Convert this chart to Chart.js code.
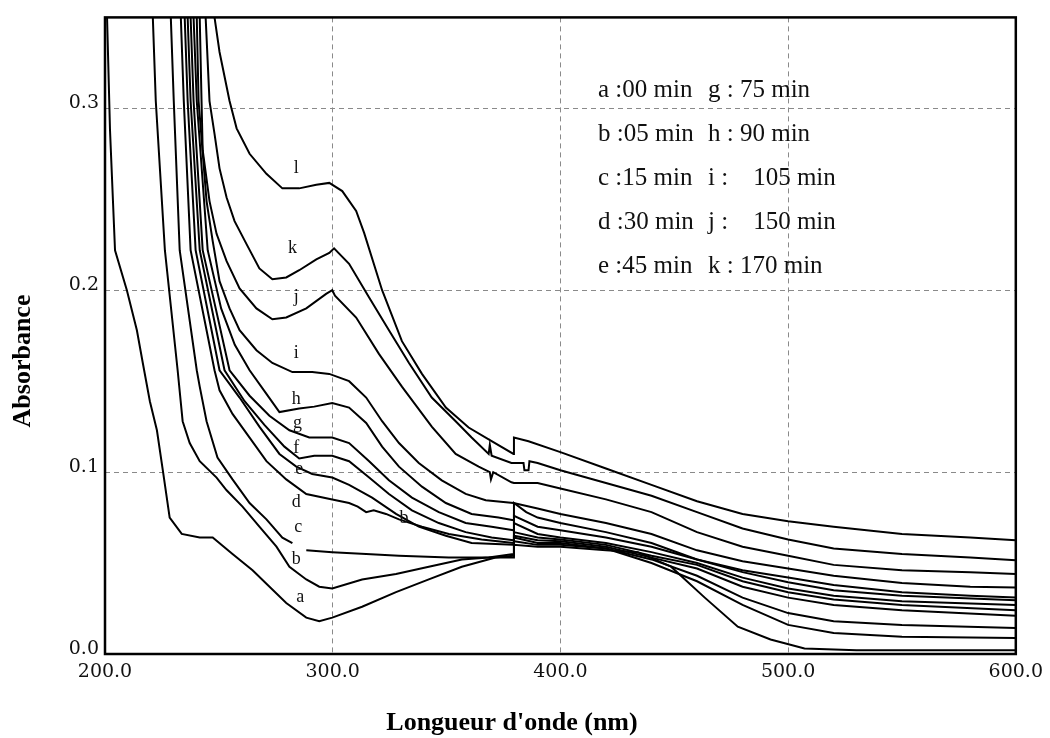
<!DOCTYPE html>
<html>
<head>
<meta charset="utf-8">
<script src="https://cdn.jsdelivr.net/npm/chart.js@4.4.0/dist/chart.umd.min.js"></script>
<style>
  html, body { margin: 0; padding: 0; background: #fff; }
  canvas { display: block; }
</style>
</head>
<body>
<canvas id="spectra" width="1050" height="738"></canvas>
<script>
// ── Spectra (wavelength in nm, absorbance) ──
const A_WL  = [200.9, 202.2, 204.4, 209.6, 214.0, 216.6, 219.7, 222.8, 225.4, 228.4, 233.7, 241.6, 247.3, 256.0, 264.8, 279.6, 288.4, 294.1, 299.8, 312.9, 327.8, 342.2, 356.7, 371.5, 379.4, 379.6, 390, 400, 420, 434, 448.6, 463.4, 477.9, 492.3, 507.2, 530, 560, 600];
const A_ABS = [0.350, 0.288, 0.222, 0.200, 0.178, 0.160, 0.139, 0.123, 0.101, 0.075, 0.066, 0.064, 0.064, 0.055, 0.046, 0.028, 0.020, 0.018, 0.020, 0.026, 0.034, 0.041, 0.048, 0.053, 0.054, 0.060, 0.059, 0.059, 0.057, 0.056, 0.048, 0.031, 0.015, 0.008, 0.003, 0.002, 0.002, 0.002];

const B_WL  = [221.0, 222.3, 226.3, 231.9, 234.1, 237.2, 241.6, 249.0, 253.4, 260.4, 267.8, 275.3, 281.0, 288.4, 294.1, 299.8, 312.9, 327.8, 342.2, 356.7, 368.5, 379.4, 379.6, 390, 400, 420, 440, 460, 480, 500, 520, 550, 600];
const B_ABS = [0.350, 0.304, 0.222, 0.156, 0.128, 0.116, 0.106, 0.097, 0.090, 0.081, 0.070, 0.059, 0.048, 0.041, 0.037, 0.036, 0.041, 0.044, 0.048, 0.052, 0.053, 0.055, 0.062, 0.060, 0.060, 0.058, 0.050, 0.040, 0.027, 0.016, 0.0115, 0.0095, 0.0088];

const C_WL  = [228.9, 230.2, 232.8, 240.3, 241.6, 244.6, 249.4, 256.0, 263.5, 270.9, 277.9, 282.3, 285.0, 288.4, 299.8, 314.7, 329.1, 351.0, 379.4, 379.6, 385, 390, 400, 420, 440, 460, 480, 500, 520, 550, 580, 600];
const C_ABS = [0.350, 0.304, 0.222, 0.156, 0.147, 0.128, 0.108, 0.096, 0.083, 0.074, 0.064, 0.061, null, 0.057, 0.056, 0.055, 0.054, 0.053, 0.053, 0.083, 0.078, 0.075, 0.072, 0.067, 0.061, 0.052, 0.046, 0.042, 0.038, 0.034, 0.032, 0.031];

const D_WL  = [233.3, 234.6, 237.6, 248.1, 250.3, 256.0, 263.5, 270.9, 279.6, 288.4, 299.8, 307.2, 311.0, 314.7, 318.0, 323.4, 329.1, 339.2, 351.0, 365.4, 379.4, 379.6, 390, 400, 420, 440, 460, 480, 500, 520, 550, 600];
const D_ABS = [0.350, 0.304, 0.222, 0.156, 0.145, 0.132, 0.119, 0.106, 0.096, 0.088, 0.085, 0.083, 0.081, 0.078, 0.079, 0.077, 0.074, 0.070, 0.066, 0.063, 0.061, 0.064, 0.061, 0.061, 0.058, 0.052, 0.043, 0.031, 0.0225, 0.018, 0.016, 0.0143];

const E_WL  = [235.0, 236.3, 239.8, 250.3, 259.1, 267.8, 276.6, 284.0, 291.0, 299.8, 307.2, 317.3, 327.8, 337.8, 349.7, 361.0, 379.4, 379.6, 390, 400, 420, 440, 460, 480, 500, 520, 550, 600];
const E_ABS = [0.350, 0.304, 0.222, 0.156, 0.141, 0.125, 0.110, 0.103, 0.099, 0.097, 0.093, 0.086, 0.077, 0.070, 0.065, 0.061, 0.060, 0.065, 0.0625, 0.062, 0.059, 0.053, 0.047, 0.037, 0.031, 0.027, 0.024, 0.021];

const F_WL  = [236.3, 237.6, 241.6, 252.5, 261.3, 270.0, 278.8, 285.3, 291.9, 299.8, 307.2, 316.0, 324.7, 334.8, 346.6, 358.4, 369.8, 379.4, 379.6, 390, 400, 420, 440, 460, 480, 500, 520, 550, 600];
const F_ABS = [0.350, 0.304, 0.222, 0.156, 0.139, 0.126, 0.114, 0.1075, 0.109, 0.109, 0.106, 0.097, 0.088, 0.079, 0.072, 0.067, 0.064, 0.0625, 0.067, 0.064, 0.063, 0.060, 0.054, 0.049, 0.040, 0.034, 0.030, 0.027, 0.024];

const G_WL  = [237.6, 238.9, 242.9, 254.7, 263.5, 272.2, 281.0, 289.7, 299.8, 307.2, 316.0, 324.7, 334.8, 346.6, 358.4, 369.8, 379.4, 379.6, 390, 400, 420, 440, 460, 480, 500, 520, 550, 600];
const G_ABS = [0.350, 0.304, 0.222, 0.156, 0.142, 0.131, 0.123, 0.119, 0.119, 0.116, 0.106, 0.0955, 0.086, 0.078, 0.072, 0.070, 0.068, 0.072, 0.066, 0.064, 0.061, 0.056, 0.050, 0.042, 0.036, 0.032, 0.029, 0.027];

const H_WL  = [238.9, 240.3, 245.1, 251.0, 257.0, 263.5, 270.9, 276.6, 285.3, 291.9, 299.8, 307.2, 314.7, 321.7, 329.1, 339.2, 349.7, 361.0, 372.8, 379.4, 379.6, 390, 400, 420, 440, 460, 480, 500, 520, 550, 600];
const H_ABS = [0.350, 0.304, 0.222, 0.190, 0.170, 0.156, 0.143, 0.133, 0.135, 0.136, 0.138, 0.1355, 0.127, 0.114, 0.103, 0.092, 0.083, 0.077, 0.075, 0.0735, 0.076, 0.070, 0.068, 0.064, 0.059, 0.052, 0.045, 0.0395, 0.035, 0.032, 0.0296];

const I_WL  = [240.3, 241.1, 244.6, 247.3, 250.3, 254.7, 259.1, 266.5, 273.5, 282.3, 291.0, 298.5, 307.2, 314.7, 321.7, 329.1, 337.8, 347.9, 358.4, 367.2, 379.4, 390, 400, 420, 440, 460, 480, 500, 520, 550, 580, 600];
const I_ABS = [0.350, 0.304, 0.249, 0.227, 0.205, 0.190, 0.178, 0.167, 0.160, 0.155, 0.155, 0.154, 0.150, 0.141, 0.128, 0.116, 0.105, 0.0955, 0.088, 0.0845, 0.083, 0.080, 0.077, 0.072, 0.066, 0.057, 0.051, 0.047, 0.043, 0.039, 0.037, 0.0365];

const J_WL  = [241.6, 242.4, 242.9, 245.9, 249.0, 253.4, 259.1, 266.5, 273.5, 279.6, 288.4, 297.1, 299.8, 301.0, 310.3, 320.3, 330.4, 343.5, 354.0, 364.1, 369.0, 369.5, 370.5, 378.5, 379.6, 390, 400, 420, 440, 460, 480, 500, 520, 550, 580, 600];
const J_ABS = [0.350, 0.304, 0.277, 0.249, 0.231, 0.216, 0.201, 0.190, 0.184, 0.185, 0.190, 0.198, 0.200, 0.197, 0.185, 0.165, 0.147, 0.125, 0.110, 0.103, 0.100, 0.096, 0.100, 0.0944, 0.094, 0.094, 0.091, 0.085, 0.078, 0.067, 0.059, 0.054, 0.049, 0.046, 0.045, 0.044];

const K_WL  = [244.2, 245.9, 248.1, 250.3, 253.4, 256.9, 262.1, 267.8, 273.5, 279.6, 285.3, 292.8, 298.5, 300.6, 307.2, 316.0, 324.7, 333.5, 343.5, 354.0, 361.0, 368.5, 369.0, 369.8, 378.5, 383.8, 384.2, 386.0, 386.4, 390, 400, 420, 440, 460, 480, 500, 520, 550, 580, 600];
const K_ABS = [0.350, 0.304, 0.286, 0.267, 0.251, 0.238, 0.2255, 0.212, 0.206, 0.207, 0.211, 0.217, 0.2205, 0.223, 0.2145, 0.196, 0.178, 0.160, 0.141, 0.128, 0.119, 0.110, 0.115, 0.109, 0.105, 0.105, 0.101, 0.101, 0.106, 0.105, 0.101, 0.094, 0.087, 0.078, 0.069, 0.063, 0.058, 0.055, 0.053, 0.0516];

const L_WL  = [248.1, 250.3, 254.7, 257.8, 263.5, 270.9, 277.9, 285.3, 292.8, 298.5, 304.2, 310.3, 313.8, 321.7, 330.4, 339.2, 349.7, 359.7, 369.8, 379.4, 379.6, 386, 400, 420, 440, 460, 480, 500, 520, 550, 580, 600];
const L_ABS = [0.350, 0.331, 0.304, 0.289, 0.275, 0.264, 0.256, 0.256, 0.258, 0.259, 0.2545, 0.2436, 0.2315, 0.200, 0.172, 0.154, 0.1355, 0.1245, 0.117, 0.110, 0.119, 0.117, 0.111, 0.102, 0.093, 0.084, 0.077, 0.073, 0.070, 0.066, 0.064, 0.0625];

// ── Curve tags written next to the traces ──
const TAG_TEXT = ['l', 'k', 'j', 'i', 'h', 'g', 'f', 'e', 'd', 'c', 'b', 'a', 'b'];
const TAG_WL   = [284.0, 282.3, 284.0, 284.0, 284.0, 284.5, 284.0, 285.3, 284.0, 284.9, 284.0, 285.8, 331.3];
const TAG_ABS  = [0.267, 0.2233, 0.1959, 0.1651, 0.1399, 0.1267, 0.113, 0.1015, 0.0834, 0.0697, 0.0521, 0.0313, 0.0746];

// ── Legend (irradiation times) ──
const LEGEND_LEFT  = ['a :00 min', 'b :05 min', 'c :15 min', 'd :30 min', 'e :45 min'];
const LEGEND_RIGHT = ['g : 75 min', 'h : 90 min', 'i :    105 min', 'j :    150 min', 'k : 170 min'];

// ── Axes ──
const X_MIN = 200, X_MAX = 600, X_STEP = 100;
const Y_MIN = 0, Y_MAX = 0.35, Y_STEP = 0.1;
const X_TITLE = "Longueur d'onde (nm)";
const Y_TITLE = 'Absorbance';

const CURVES = [
  ['a', A_WL, A_ABS], ['b', B_WL, B_ABS], ['c', C_WL, C_ABS], ['d', D_WL, D_ABS],
  ['e', E_WL, E_ABS], ['f', F_WL, F_ABS], ['g', G_WL, G_ABS], ['h', H_WL, H_ABS],
  ['i', I_WL, I_ABS], ['j', J_WL, J_ABS], ['k', K_WL, K_ABS], ['l', L_WL, L_ABS],
];

const GRID = '#8a8a8a';
const SERIF = '"Liberation Serif", "Times New Roman", serif';
const TICK_FONT = { family: '"DejaVu Serif", serif', size: 19 };

const innerGrid = (edges) => (ctx) =>
  (ctx.tick && edges.includes(Math.round(ctx.tick.value * 1000) / 1000)) ? 'rgba(0,0,0,0)' : GRID;

// ── Frame, tags, legend, titles ──
const decorations = {
  id: 'decorations',
  afterDraw(chart) {
    const { ctx, chartArea: a, scales: { x, y } } = chart;
    ctx.save();

    ctx.strokeStyle = '#000';
    ctx.lineWidth = 2.5;
    ctx.strokeRect(a.left, a.top, a.right - a.left, a.bottom - a.top);

    ctx.fillStyle = '#111';
    ctx.textAlign = 'center';
    ctx.textBaseline = 'middle';
    ctx.font = `18px ${SERIF}`;
    TAG_TEXT.forEach((t, i) => {
      ctx.fillText(t, x.getPixelForValue(TAG_WL[i]), y.getPixelForValue(TAG_ABS[i]));
    });

    ctx.textAlign = 'left';
    ctx.font = `25px ${SERIF}`;
    LEGEND_LEFT.forEach((t, i) => ctx.fillText(t, 598, 90 + i * 44.2));
    LEGEND_RIGHT.forEach((t, i) => ctx.fillText(t, 708, 90 + i * 44.2));

    ctx.fillStyle = '#000';
    ctx.textAlign = 'center';
    ctx.font = `bold 26px ${SERIF}`;
    ctx.fillText(X_TITLE, 512, 723);
    ctx.translate(23, 361);
    ctx.rotate(-Math.PI / 2);
    ctx.fillText(Y_TITLE, 0, 0);

    ctx.restore();
  },
};

new Chart(document.getElementById('spectra').getContext('2d'), {
  type: 'line',
  data: {
    datasets: CURVES.map(([name, wl, abs]) => ({
      label: name,
      data: wl.map((w, i) => ({ x: w, y: abs[i] })),
      borderColor: '#000',
      borderWidth: 2,
      pointRadius: 0,
      tension: 0,
      spanGaps: false,
      fill: false,
    })),
  },
  options: {
    responsive: false,
    animation: false,
    devicePixelRatio: 1,
    layout: { padding: { left: 0, right: 32, top: 16, bottom: 0 } },
    plugins: { legend: { display: false }, tooltip: { enabled: false } },
    scales: {
      x: {
        type: 'linear',
        min: X_MIN, max: X_MAX,
        afterFit: (s) => { s.height = 84; },
        ticks: {
          stepSize: X_STEP,
          padding: 7,
          color: '#111',
          font: TICK_FONT,
          maxRotation: 0,
          callback: (v) => v.toFixed(1),
        },
        grid: { color: innerGrid([X_MIN, X_MAX]), lineWidth: 1, drawTicks: false },
        border: { display: false, dash: [5, 4] },
      },
      y: {
        min: Y_MIN, max: Y_MAX,
        afterFit: (s) => { s.width = 105; },
        ticks: {
          stepSize: Y_STEP,
          includeBounds: false,
          padding: 6,
          labelOffset: -5,
          color: '#111',
          font: TICK_FONT,
          callback: (v) => v.toFixed(1),
        },
        grid: { color: innerGrid([0]), lineWidth: 1, drawTicks: false },
        border: { display: false, dash: [5, 4] },
      },
    },
  },
  plugins: [decorations],
});
</script>
</body>
</html>
